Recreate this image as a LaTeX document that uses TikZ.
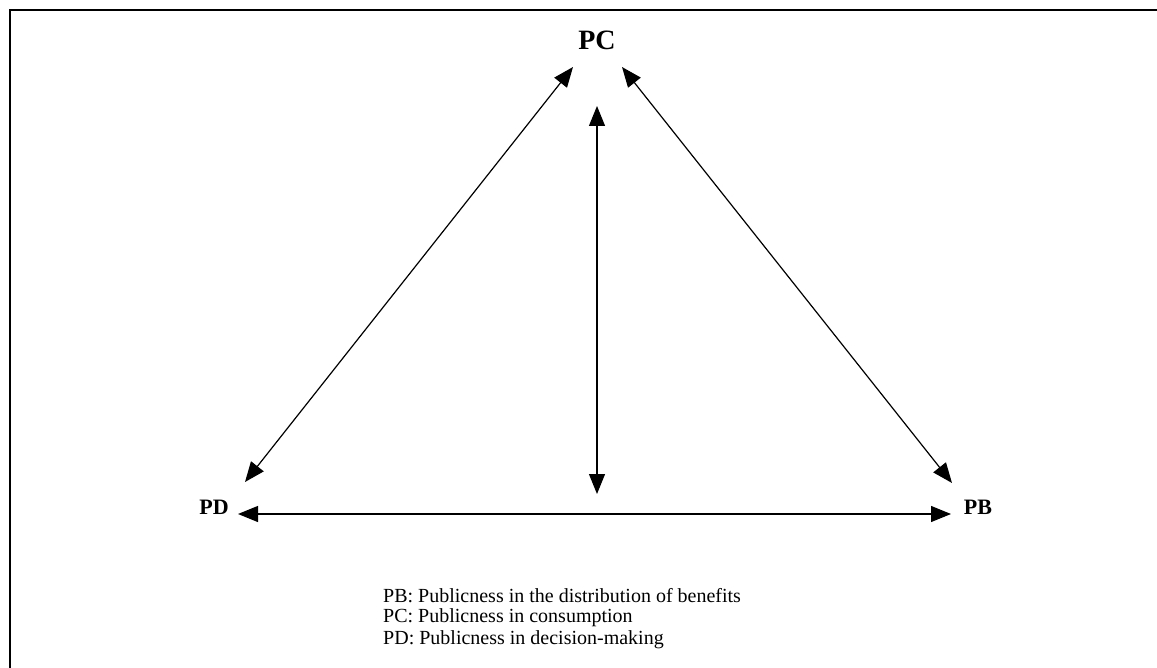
\documentclass[tikz,border=0pt]{standalone}
\usepackage{fontspec}
\setmainfont{Liberation Serif}
\usetikzlibrary{arrows.meta}
\begin{document}
\begin{tikzpicture}[x=1pt,y=-1pt,
  conn/.style={line width=1.2pt,{Triangle[length=20pt,width=16pt]}-{Triangle[length=20pt,width=16pt]}},
  lbl/.style={font=\fontsize{22}{25}\selectfont\bfseries,inner sep=0pt},
  legend/.style={font=\fontsize{20}{22}\selectfont,inner sep=0pt,anchor=west}]
\useasboundingbox (0,0) rectangle (1157,668);
\draw[line width=2pt] (10,668) -- (10,10.5) -- (1157,10.5);
\node[lbl,font=\fontsize{28}{32}\selectfont\bfseries] (pc) at (597,40) {PC};
\node[lbl] (pd) at (214,507) {PD};
\node[lbl] (pb) at (978,507) {PB};
\coordinate (l1) at (245,482);
\coordinate (l2) at (573,67);
\coordinate (r1) at (622,67);
\coordinate (r2) at (952,483);
\coordinate (v1) at (597,106);
\coordinate (v2) at (597,494);
\coordinate (h1) at (238,514);
\coordinate (h2) at (951,514);
\draw[conn] (l1) -- (l2);
\draw[conn] (r1) -- (r2);
\draw[conn] (v1) -- (v2);
\draw[conn] (h1) -- (h2);
\node[legend] (t1) at (383,596) {PB: Publicness in the distribution of benefits};
\node[legend] (t2) at (383,618) {PC: Publicness in consumption};
\node[legend] (t3) at (383,640) {PD: Publicness in decision-making};
\end{tikzpicture}
\end{document}
